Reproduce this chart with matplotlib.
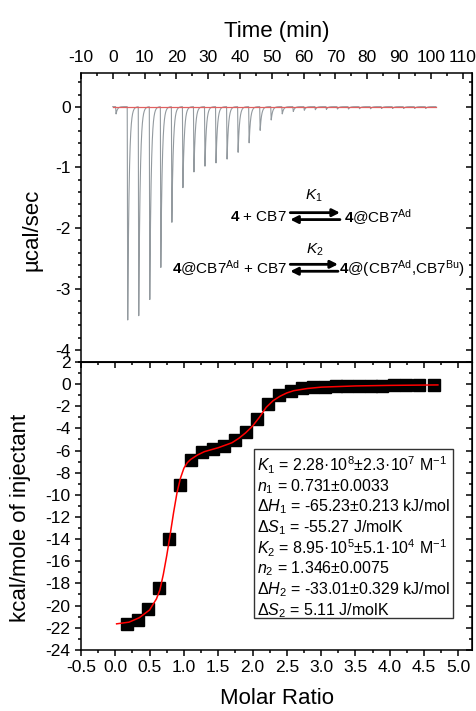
import numpy as np
import matplotlib
matplotlib.use('Agg')
import matplotlib.pyplot as plt
from matplotlib.ticker import MultipleLocator
from matplotlib.patches import Rectangle

plt.rcParams['font.family'] = ['Liberation Sans', 'DejaVu Sans']
plt.rcParams['mathtext.fontset'] = 'custom'
plt.rcParams['mathtext.rm'] = 'Liberation Sans'
plt.rcParams['mathtext.it'] = 'Liberation Sans:italic'
plt.rcParams['mathtext.bf'] = 'Liberation Sans:bold'
plt.rcParams['axes.unicode_minus'] = False

## raw thermogram: injection times (min) and peak depths (ucal/sec)
inj_time = [0.9, 4.56, 8.03, 11.5, 14.97, 18.44, 21.91, 25.38, 28.85, 32.32,
            35.79, 39.26, 42.73, 46.2, 49.67, 53.14, 56.61, 60.08, 63.55, 67.02,
            70.49, 73.96, 77.43, 80.9, 84.37, 87.84, 91.31, 94.78, 98.25]
peak_depth = [-0.12, -3.56, -3.45, -3.18, -2.66, -1.92, -1.35, -1.08, -0.98, -0.93,
              -0.87, -0.76, -0.60, -0.39, -0.22, -0.12, -0.08, -0.06, -0.05, -0.045,
              -0.04, -0.04, -0.035, -0.035, -0.03, -0.03, -0.03, -0.03, -0.03]
baseline_t = [0, 101.6]
baseline_y = [0, 0]

## integrated heats
molar_ratio = [0.17, 0.33, 0.48, 0.64, 0.79, 0.95, 1.11, 1.27, 1.43, 1.59,
               1.75, 1.91, 2.07, 2.23, 2.39, 2.56, 2.72, 2.88, 3.05, 3.21,
               3.38, 3.55, 3.72, 3.89, 4.06, 4.24, 4.43, 4.64]
heat = [-21.65, -21.3, -20.35, -18.4, -14.0, -9.08, -6.9, -6.15, -5.87, -5.57,
        -5.09, -4.33, -3.18, -1.76, -1.0, -0.61, -0.39, -0.3, -0.24, -0.2,
        -0.18, -0.16, -0.15, -0.14, -0.13, -0.12, -0.12, -0.11]

## fitted curve
fit_x = [0.02, 0.2, 0.35, 0.5, 0.6, 0.65, 0.7, 0.75, 0.8, 0.85, 0.9, 0.95, 1.0,
         1.05, 1.1, 1.2, 1.3, 1.5, 1.7, 1.8, 1.9, 2.0, 2.1, 2.2, 2.3, 2.4, 2.5,
         2.6, 2.8, 3.0, 3.5, 4.0, 4.7]
fit_y = [-21.65, -21.5, -21.1, -20.4, -19.4, -18.6, -17.2, -15.5, -13.6, -11.6,
         -9.8, -8.5, -7.6, -7.1, -6.8, -6.4, -6.1, -5.75, -5.3, -4.9, -4.4, -3.8,
         -3.0, -2.1, -1.5, -1.1, -0.8, -0.6, -0.4, -0.28, -0.17, -0.12, -0.08]

fit_lines = [r"$K_1$ = 2.28·10$^8$±2.3·10$^7$ M$^{-1}$",
             r"$n_1$ = 0.731±0.0033",
             r"Δ$H_1$ = -65.23±0.213 kJ/mol",
             r"Δ$S_1$ = -55.27 J/molK",
             r"$K_2$ = 8.95·10$^5$±5.1·10$^4$ M$^{-1}$",
             r"$n_2$ = 1.346±0.0075",
             r"Δ$H_2$ = -33.01±0.329 kJ/mol",
             r"Δ$S_2$ = 5.11 J/molK"]

TICK_FS = 12.5
LABEL_FS = 16
SCHEME_FS = 11

fig = plt.figure(figsize=(4.76, 7.11), dpi=100)
ax1 = fig.add_axes([0.170, 0.491, 0.822, 0.406])
ax2 = fig.add_axes([0.170, 0.086, 0.822, 0.405])

for ax in (ax1, ax2):
    for sp in ax.spines.values():
        sp.set_linewidth(1.1)

def style_secondary(sec):
    # inward ticks, no labels (right / top sides)
    sec.tick_params(which='both', direction='in', width=1.1, labelleft=False,
                    labelright=False, labeltop=False, labelbottom=False)
    sec.tick_params(which='major', length=4.5)
    sec.tick_params(which='minor', length=2.5)

# ---- top panel: thermogram
t = np.linspace(0, 101.6, 12000)
power = np.zeros_like(t)
for t0, d in zip(inj_time, peak_depth):
    dt = t - t0
    rise = (dt >= 0) & (dt < 0.15)
    fall = dt >= 0.15
    power[rise] += d * dt[rise] / 0.15
    power[fall] += d * np.exp(-(dt[fall] - 0.15) / 0.45)

ax1.plot(t, power, color='#939a9f', lw=0.8)
ax1.plot(baseline_t, baseline_y, color='#e06060', lw=0.9)
ax1.set_xlim(-10, 113)
ax1.set_ylim(-4.2, 0.55)
ax1.xaxis.tick_top()
ax1.xaxis.set_label_position('top')
ax1.set_xlabel('Time (min)', fontsize=LABEL_FS, labelpad=9)
ax1.xaxis.set_major_locator(MultipleLocator(10))
ax1.xaxis.set_minor_locator(MultipleLocator(5))
ax1.yaxis.set_major_locator(MultipleLocator(1))
ax1.yaxis.set_minor_locator(MultipleLocator(0.2))
ax1.tick_params(axis='x', which='both', direction='in', top=True, bottom=False,
                labeltop=True, labelbottom=False, width=1.1, pad=6,
                labelsize=TICK_FS)
ax1.tick_params(axis='y', which='both', direction='out', left=True, right=False,
                width=1.1, pad=3, labelsize=TICK_FS)
ax1.tick_params(which='major', length=4.5)
ax1.tick_params(which='minor', length=2.5)
ax1.set_ylabel('µcal/sec', fontsize=LABEL_FS)
ax1.yaxis.set_label_coords(-0.098, 0.457)
r1 = ax1.secondary_yaxis('right')
r1.yaxis.set_major_locator(MultipleLocator(1))
r1.yaxis.set_minor_locator(MultipleLocator(0.2))
style_secondary(r1)

# reaction scheme
tf = ax1.transAxes
ax1.text(0.527, 0.502, r"$\mathbf{4}$ + CB7", transform=tf, ha='right',
         va='center', fontsize=SCHEME_FS)
ax1.text(0.672, 0.502, r"$\mathbf{4}$@CB7$^{\mathrm{Ad}}$", transform=tf,
         ha='left', va='center', fontsize=SCHEME_FS)
ax1.text(0.595, 0.574, r"$K_1$", transform=tf, ha='center', va='center',
         fontsize=SCHEME_FS)
ax1.text(0.527, 0.325, r"$\mathbf{4}$@CB7$^{\mathrm{Ad}}$ + CB7", transform=tf,
         ha='right', va='center', fontsize=SCHEME_FS)
ax1.text(0.660, 0.325, r"$\mathbf{4}$@(CB7$^{\mathrm{Ad}}$,CB7$^{\mathrm{Bu}}$)",
         transform=tf, ha='left', va='center', fontsize=SCHEME_FS)
ax1.text(0.598, 0.388, r"$K_2$", transform=tf, ha='center', va='center',
         fontsize=SCHEME_FS)
arrow = dict(arrowstyle='-|>', color='k', lw=2.0, mutation_scale=11,
             shrinkA=0, shrinkB=0)
for (xa, xb, yt, yb) in [(0.535, 0.662, 0.517, 0.493),
                         (0.535, 0.657, 0.338, 0.314)]:
    ax1.annotate('', xy=(xb, yt), xytext=(xa, yt), xycoords=tf,
                 textcoords=tf, arrowprops=arrow)
    ax1.annotate('', xy=(xa, yb), xytext=(xb, yb), xycoords=tf,
                 textcoords=tf, arrowprops=arrow)

# ---- bottom panel: integrated heats
ax2.plot(molar_ratio, heat, 's', color='black', ms=8.5, zorder=3)
ax2.plot(fit_x, fit_y, color='red', lw=1.1, zorder=4)
ax2.set_xlim(-0.5, 5.2)
ax2.set_ylim(-24, 2)
ax2.xaxis.set_major_locator(MultipleLocator(0.5))
ax2.xaxis.set_minor_locator(MultipleLocator(0.25))
ax2.yaxis.set_major_locator(MultipleLocator(2))
ax2.yaxis.set_minor_locator(MultipleLocator(1))
ax2.tick_params(which='both', direction='out', top=False, right=False,
                width=1.1, pad=3, labelsize=TICK_FS)
ax2.tick_params(which='major', length=4.5)
ax2.tick_params(which='minor', length=2.5)
ax2.set_xlabel('Molar Ratio', fontsize=LABEL_FS, labelpad=9)
ax2.set_ylabel('kcal/mole of injectant', fontsize=LABEL_FS)
ax2.yaxis.set_label_coords(-0.128, 0.458)
t2 = ax2.secondary_xaxis('top')
t2.xaxis.set_major_locator(MultipleLocator(0.5))
t2.xaxis.set_minor_locator(MultipleLocator(0.25))
style_secondary(t2)
r2 = ax2.secondary_yaxis('right')
r2.yaxis.set_major_locator(MultipleLocator(2))
r2.yaxis.set_minor_locator(MultipleLocator(1))
style_secondary(r2)

# fit results box
ax2.add_patch(Rectangle((0.442, 0.111), 0.509, 0.587, transform=ax2.transAxes,
                        fill=False, edgecolor='#333333', lw=1.0, zorder=5))
for i, line in enumerate(fit_lines):
    ax2.text(0.449, 0.640 - i * 0.0719, line, transform=ax2.transAxes,
             ha='left', va='center', fontsize=11.5, zorder=6)

fig.savefig('out.png', dpi=100)
